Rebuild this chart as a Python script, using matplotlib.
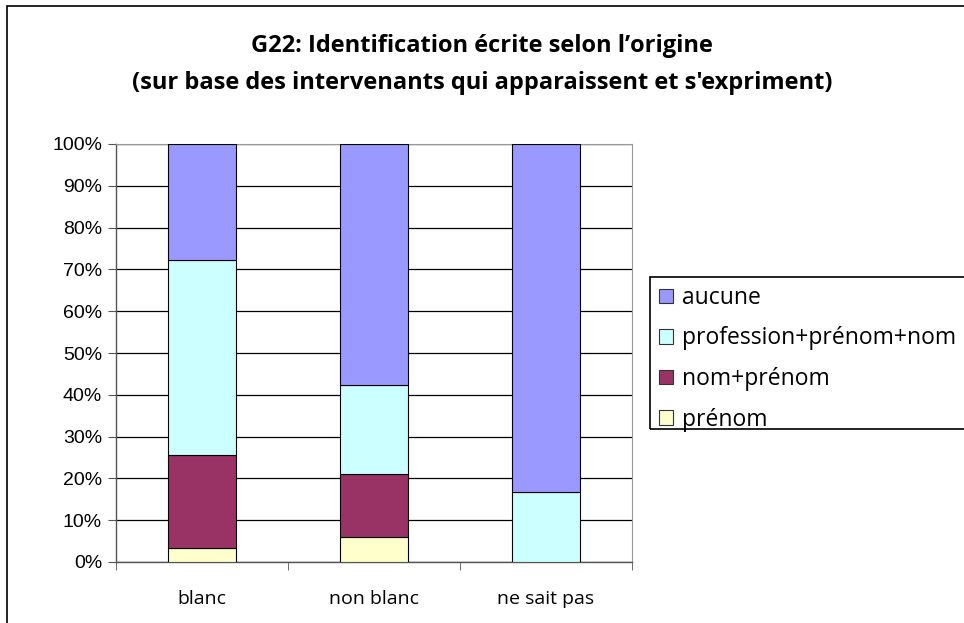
import numpy as np
import matplotlib
matplotlib.use("Agg")
import matplotlib.pyplot as plt
from matplotlib.patches import Rectangle, Patch

# Data (percent of each group)
categories = ["blanc", "non blanc", "ne sait pas"]
series_names = ["prénom", "nom+prénom", "profession+prénom+nom", "aucune"]
prenom = [3.3, 6.0, 0.0]
nom_prenom = [22.4, 15.1, 0.0]
profession = [46.5, 21.2, 16.7]
aucune = [27.8, 57.7, 83.3]
colors = ["#FFFFCC", "#993366", "#CCFFFF", "#9999FF"]
yticks = np.arange(0, 101, 10)

W, H = 964, 623
fig = plt.figure(figsize=(W / 100, H / 100), dpi=100)

# outer chart frame (left and top edges visible)
fig.patches.append(Rectangle((7 / W, -0.05), 1.1, (H - 6) / H + 0.05,
                             transform=fig.transFigure, fill=False,
                             edgecolor="black", linewidth=1.2))

ax = fig.add_axes([116 / W, (H - 562) / H, 516 / W, 418 / H])

x = np.arange(len(categories))
bottom = np.zeros(len(categories))
for name, vals, c in zip(series_names, [prenom, nom_prenom, profession, aucune], colors):
    ax.bar(x, vals, width=0.4, bottom=bottom, color=c, edgecolor="black",
           linewidth=0.8, label=name, zorder=3)
    bottom += np.array(vals)

ax.set_xlim(-0.5, 2.5)
ax.set_ylim(0, 100)
ax.set_yticks(yticks)
ax.set_yticklabels([f"{v}%" for v in yticks], fontsize=14,
                   family="Liberation Sans")
ax.yaxis.grid(True, color="black", linewidth=0.9, zorder=0)
ax.set_xticks(x)
ax.set_xticklabels(categories, fontsize=14, family="Open Sans")
ax.set_xticks([-0.5, 0.5, 1.5, 2.5], minor=True)
ax.tick_params(axis="x", which="major", length=0, pad=20)
ax.tick_params(axis="x", which="minor", length=6, color="#555555", direction="out")
ax.tick_params(axis="y", length=6, color="#555555", direction="out", pad=4)
for s in ["top", "right"]:
    ax.spines[s].set_color("#999999")
for s in ["left", "bottom"]:
    ax.spines[s].set_color("#555555")
    ax.spines[s].set_linewidth(1.0)

fig.text(0.5, (H - 46) / H, "G22: Identification écrite selon l’origine",
         ha="center", va="center", fontsize=17, fontweight="bold", family="Open Sans")
fig.text(0.5, (H - 83) / H, "(sur base des intervenants qui apparaissent et s'expriment)",
         ha="center", va="center", fontsize=17, fontweight="bold", family="Open Sans")

# legend frame
fig.patches.append(Rectangle((650 / W, (H - 429) / H), 0.5, 152 / H,
                             transform=fig.transFigure, fill=False,
                             edgecolor="black", linewidth=1.2))
handles = [Patch(facecolor=c, edgecolor="#333333", linewidth=0.8)
           for c in colors[::-1]]
fig.legend(handles, series_names[::-1], loc="upper left",
           bbox_to_anchor=(659 / W, (H - 286) / H), frameon=False,
           prop={"family": "Open Sans", "size": 16.5},
           handlelength=0.6, handleheight=0.6, handletextpad=0.4,
           labelspacing=0.72, borderaxespad=0, borderpad=0.0)

fig.savefig("out.png", dpi=100)
